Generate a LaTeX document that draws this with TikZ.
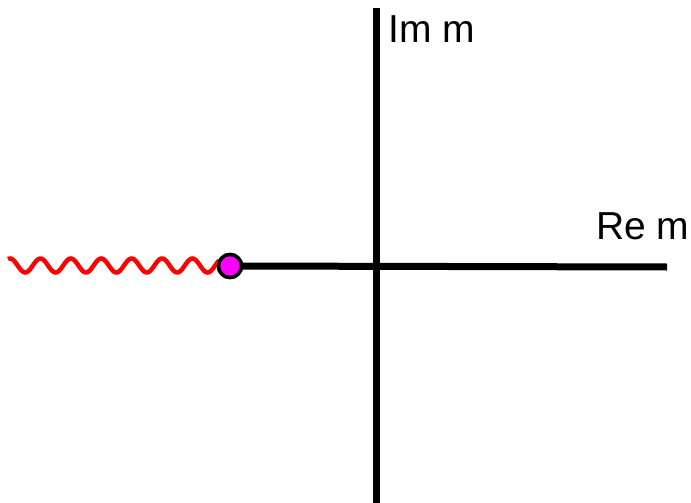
\documentclass[tikz,border=0pt]{standalone}
\usepackage{fontspec}
\setmainfont{Liberation Sans}
\definecolor{polefill}{RGB}{255,0,255}
\begin{document}
\begin{tikzpicture}[x=1pt,y=-1pt,
  axis/.style={line width=7pt, black},
  lbl/.style={inner sep=0pt, anchor=base west, font=\fontsize{39}{41}\selectfont},
  pole/.style={circle, draw=black, line width=3.5pt, fill=polefill, minimum size=23pt, inner sep=0pt}]
\useasboundingbox (0,0) rectangle (691,503);
\coordinate (vt) at (376,8);
\coordinate (vb) at (376,503);
\coordinate (hr) at (667,267);
\draw[axis] (vt) -- (vb);
\node[pole] (p) at (230,266) {};
\draw[axis] (p.center) -- (hr);
\draw[red, line width=4.5pt] plot[domain=8:219, samples=200, smooth] (\x, {265.5 - 7*cos((\x-10)/30.4*360)});
\node[pole] at (p) {};
\node[lbl] (im) at (388,43) {Im m};
\node[lbl] (re) at (596,239) {Re m};
\end{tikzpicture}
\end{document}
